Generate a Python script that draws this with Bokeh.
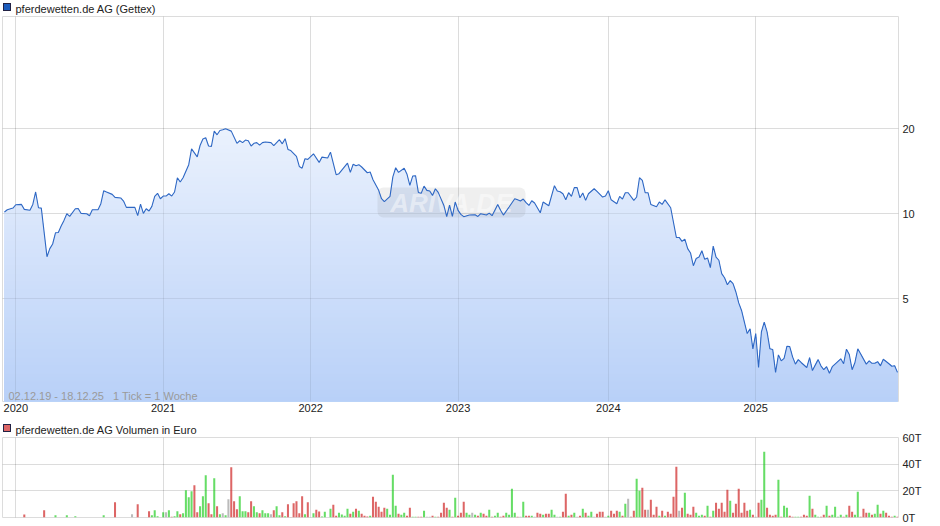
from bokeh.embed import file_html
from bokeh.resources import INLINE
from bokeh.layouts import column
from bokeh.models import Range1d, FixedTicker, Label, BoxAnnotation, ColumnDataSource, Grid, Title, Div
from bokeh.plotting import figure
import numpy as np

chart_title = "pferdewetten.de AG (Gettex)"
volume_title = "pferdewetten.de AG Volumen in Euro"
range_note = "02.12.19 - 18.12.25\u00a0\u00a0\u00a01 Tick = 1 Woche"
watermark = "ARIVA.DE"

year_ticks = [4, 56, 108, 160, 213, 265]
year_labels = ["2020", "2021", "2022", "2023", "2024", "2025"]
price_ticks = [5, 10, 20]
volume_ticks = [0, 20, 40, 60]
volume_labels = ["0T", "20T", "40T", "60T"]

price_weeks = [
    0,1,3,4,6,7,9,10,11,12,13,15,16,17,18,19,20,21,22,23,25,26,27,29,30,31,33,34,35,36,38,39,41,42,43,46,47,48,49,50,
    51,52,53,54,55,56,57,58,59,60,61,62,63,65,66,68,69,70,71,72,73,74,75,76,77,78,80,82,83,84,85,86,87,88,89,90,91,92,
    94,95,97,98,99,100,101,103,104,105,
    106,107,109,111,112,114,115,117,118,121,122,123,124,125,126,128,129,130,132,133,134,136,137,138,139,141,142,143,
    144,145,146,147,148,149,150,151,152,153,155,156,157,158,159,160,161,162,164,166,167,168,170,171,172,174,175,176,
    178,180,181,182,183,184,185,186,187,189,190,192,194,195,196,197,198,199,200,201,202,203,204,205,206,208,209,211,
    212,213,214,216,
    217,218,219,220,222,223,224,225,226,227,228,230,231,232,233,235,237,238,239,240,241,242,243,244,245,246,247,248,
    249,250,251,252,253,254,255,256,257,258,259,260,261,262,263,264,265,266,267,268,269,270,271,272,273,274,275,276,
    277,278,279,280,281,283,284,285,287,288,289,290,291,292,295,296,297,298,299,300,301,304,305,306,307,308,309,310,
    312,313,314,315,
]
prices = [
    10.14,10.33,10.47,10.76,10.79,10.36,10.28,10.79,11.94,10.50,10.47,7.04,7.52,7.81,8.56,8.58,9.04,9.47,10.0,9.78,
    10.41,10.44,10.03,10.0,9.84,10.33,10.33,10.85,12.06,11.94,11.71,11.43,11.37,11.09,10.53,10.53,9.84,10.82,10.03,10.41,
    10.22,10.62,11.52,11.81,11.30,11.55,11.55,11.77,11.55,11.94,13.41,12.95,13.41,14.92,16.98,15.91,17.45,18.39,18.59,17.38,
    17.33,19.62,19.04,19.72,19.83,20.0,19.62,17.76,18.14,17.86,18.24,18.14,17.38,17.76,17.86,17.51,17.86,17.96,
    17.86,17.43,18.29,17.69,18.44,16.90,16.75,15.97,14.71,14.50,
    15.66,15.58,16.31,15.20,15.87,15.75,16.53,13.75,13.86,15.11,14.01,14.97,14.80,14.92,14.64,13.97,14.05,13.20,12.10,11.30,
    11.03,11.52,13.50,14.55,14.01,14.50,13.79,12.60,13.60,13.64,11.90,11.81,12.53,12.10,12.03,11.61,12.26,11.90,10.70,9.76,
    10.73,9.78,11.00,10.28,9.95,9.76,9.89,9.92,9.78,10.0,9.89,10.05,9.84,10.79,10.28,9.89,10.56,11.30,11.20,11.09,
    11.27,10.94,10.70,11.12,10.91,10.08,11.00,10.67,12.57,12.03,11.97,11.77,11.20,11.87,11.52,12.37,12.37,11.39,11.84,11.15,
    11.77,12.26,12.00,11.46,11.55,12.06,11.20,10.85,
    11.52,11.27,11.87,11.87,11.15,11.46,13.41,13.13,11.87,11.87,10.79,10.59,11.00,10.79,11.20,10.50,8.24,8.24,7.98,8.13,
    7.52,7.26,6.54,6.94,7.02,7.39,6.89,6.97,6.44,7.68,7.02,6.84,6.13,5.93,5.60,5.79,5.65,5.28,4.83,4.54,
    4.13,3.76,3.91,3.32,3.76,2.85,3.81,4.13,3.81,3.32,3.30,2.74,3.16,3.01,3.07,3.39,3.38,3.11,2.93,3.04,
    2.97,2.85,3.09,2.78,3.04,2.89,2.80,2.87,2.72,2.87,3.06,2.94,3.31,3.17,2.80,2.97,3.32,2.93,3.01,2.95,
    2.95,2.99,2.89,3.05,2.94,2.88,2.89,2.74,
]

# weekly traded volume in thousand euro, one row per ten weeks
volumes = [
    0,0,0,0,0,0,0,2.25,0,0,
    0,0,0,0,5.5,0,0,0,1.75,0,
    0,0,1.75,0,0,1,0,0,0,0,
    0,0,0,0,0,1.75,0,0,0,11.5,
    0,0,0,0,0,2.5,0,10,0,0,
    0,4.75,1.75,5.5,1,0,4,4,5.5,.5,
    1,4.75,2.5,3.25,20.5,15.25,19.75,24.25,4,8.5,
    16,31.75,10.75,2.5,29.5,8.5,2.5,3.25,1.75,13.75,
    37.75,12.25,6.25,16,4.75,4.75,4,12.25,8.5,4,
    3.25,5.5,3.25,3.25,2.5,5.5,8.5,1.75,4,1,
    10,.25,10.75,12.25,3.25,16,2.5,11.5,0,3.25,
    5.75,4.5,.75,4.25,0,6.5,9.5,1.25,3.5,2.25,
    1.25,6.5,2.75,4.25,6.5,5,2.75,1.25,.75,1.25,
    15.5,11.75,8,4.25,7.25,6.5,2,32,8.75,2.75,
    2,3.5,1.25,7.25,.5,.5,.5,.5,5,.5,
    .5,1.25,.5,.5,3.5,11,7.25,5.75,.5,14.75,
    1.25,3.5,11.75,3.5,2,3.5,2,1.25,3.5,2.75,
    1.25,5.75,.5,1.25,3.5,.5,1.25,3.5,2,21.5,
    3.5,.5,.5,11.75,1.25,1.25,1.25,.5,3.5,2.75,
    2,2.75,2.75,5.75,2,.5,.5,4.25,17.75,1.25,
    2,3.5,.5,1.25,6.5,3.5,1.25,4.25,.5,2.75,
    4.25,4.25,.5,1.25,5,2.75,5,4.25,1.25,10.25,
    14,.5,5,29,20,22.25,5.75,5.75,13.25,2,
    8,1.25,5,1.25,4.25,2.75,15.5,38,5,7.25,
    18.5,2.75,2,8,3.5,1.25,2,1.25,8.75,.5,
    5,11,6.5,11,4.25,20.75,12.5,3.5,10.25,21.5,
    3.5,11,5,5.75,2,.5,11,13.25,49.25,7.25,
    2,1.25,2,28.25,.5,8.75,7.25,1.25,.5,.5,
    .5,.5,2,1.25,16.25,6.5,2,.5,.5,2,
    8.75,1.25,2,8,.5,2,.5,2,8.75,4.25,
    2,19.25,.5,6.5,3.5,3.5,2,2.75,9.5,2.75,
    5,3.5,1.25,.5,1.25,.5,
]
# r = week closed lower, g = higher, n = unchanged, . = no trades
volume_kinds = "".join([
    ".......r..", "....r...g.", "..g..g....", ".....g...r", ".....n.r..",
    ".rggg.gngr", "ggrggggrrg", "ggrrgrgngn", "rrrgggrrgg", "rgggnrggrg",
    "rrrrrrgr.g", "rrgg.grrgg", "ggrgrgrrrg", "rrrrrggggr", "ggrrggrrgn",
    "nrgrrrrgrg", "rrrggngrgr", "rgrggrrggg", "grngrrgnrr", "grrggngrrg",
    "rgnrgrggnr", "rrngrrrgrg", "nrrggrrnrr", "rgrgrrrrnr", "grrrgggrgr",
    "grrrrrgrrr", "rrrgrnrggr", "rrrgrggrrg", "grrrgrggrr", "grggggrgrr",
    "ggrrrgrggr", "grrrgr",
])

FONT = "Liberation Sans"
KIND_COLORS = {"r": "#dd6666", "g": "#66dd66", "n": "#bbbbbb", ".": "#ffffff"}
x_range = (-0.69, 315.36)
y_low, y_high = 2.16, 50.0


def base_figure(height, top, bottom, y_range, y_axis_type, y_ticks, title):
    p = figure(width=940, height=height, output_backend="svg", toolbar_location=None,
               x_range=Range1d(*x_range), y_range=y_range, y_axis_type=y_axis_type,
               y_axis_location="right", min_border_left=2, min_border_right=42,
               min_border_top=top, min_border_bottom=bottom,
               outline_line_color="#dcdcdc", outline_line_width=1,
               background_fill_color="#ffffff", border_fill_color="#ffffff")
    p.title = Title(text=title, text_font=FONT, text_font_size="11px", text_font_style="normal",
                    text_color="#222222", align="left", offset=13, standoff=0, vertical_align="top",
                    padding=0)
    p.xaxis.ticker = FixedTicker(ticks=year_ticks)
    p.xaxis.major_label_overrides = dict(zip(year_ticks, year_labels))
    p.yaxis.ticker = FixedTicker(ticks=y_ticks)
    for ax in list(p.xaxis) + list(p.yaxis):
        ax.axis_line_color = None
        ax.major_tick_line_color = None
        ax.minor_tick_line_color = None
        ax.major_tick_out = 0
        ax.major_tick_in = 0
        ax.major_label_text_font = FONT
        ax.major_label_text_font_size = "11px"
        ax.major_label_text_color = "#222222"
    p.xaxis.major_label_standoff = 2
    p.yaxis.major_label_standoff = 4
    # one set of grid lines under the filled area and a fainter one over it
    p.grid.visible = False
    for dim, ticks in ((0, year_ticks), (1, y_ticks)):
        for level in ("underlay", "guide"):
            p.add_layout(Grid(dimension=dim, ticker=FixedTicker(ticks=ticks), level=level,
                              grid_line_color="#000000", grid_line_alpha=0.07, grid_line_width=1))
    return p


def legend_square(fill, top):
    html = ('<div style="position:absolute;left:3px;top:%dpx;width:8px;height:8px;box-sizing:border-box;'
            'background:%s;border:1px solid #222244;z-index:5"></div>' % (top, fill))
    return Div(text=html, width=0, height=0, margin=0, styles={"position": "relative", "overflow": "visible"})


# price panel
p1 = base_figure(421, 16, 20, Range1d(y_low, y_high), "log", price_ticks, chart_title)
p1.yaxis.major_label_overrides = {t: str(t) for t in price_ticks}

wk = np.array(price_weeks, dtype=float)
pr = np.array(prices, dtype=float)
# vertical gradient: bands painted from the top down, each one reaching to the floor
edges = np.geomspace(y_high, y_low, 97)
for i in range(96):
    if edges[i + 1] > pr.max():
        continue
    t = (i + 0.5) / 96
    col = "#%02x%02x%02x" % (round(255 - 71 * t), round(255 - 47 * t), round(255 - 7 * t))
    p1.varea(x=wk, y1=np.full(len(wk), y_low), y2=np.minimum(pr, edges[i]), fill_color=col, fill_alpha=1)

p1.add_layout(BoxAnnotation(left=377, right=525, top=187, bottom=217,
                            left_units="canvas", right_units="canvas",
                            top_units="canvas", bottom_units="canvas",
                            fill_color="#707070", fill_alpha=0.11, line_color=None, border_radius=6))
p1.add_layout(Label(x=451, y=202, x_units="canvas", y_units="canvas", text=watermark,
                    text_font=FONT, text_font_style="bold italic", text_font_size="26px",
                    text_color="#ffffff", text_alpha=0.45, text_align="center", text_baseline="middle"))
line = p1.line(wk, pr, line_color="#2f68c4", line_width=1.1)
line.level = "overlay"
p1.add_layout(Label(x=8, y=395, x_units="canvas", y_units="canvas", text=range_note,
                    text_font=FONT, text_font_size="11px", text_color="#9a9a9a",
                    text_baseline="middle"))

# volume panel
p2 = base_figure(105, 16, 9, Range1d(0, 60), "linear", volume_ticks, volume_title)
p2.xaxis.visible = False
p2.yaxis.major_label_overrides = dict(zip(volume_ticks, volume_labels))
src = ColumnDataSource(dict(
    week=list(range(len(volumes))), volume=volumes,
    color=[KIND_COLORS[k] for k in volume_kinds],
))
p2.vbar(x="week", top="volume", bottom=0, width=0.72, fill_color="color", line_color=None, source=src)

root = column(legend_square("#1c5cbc", 3), p1, legend_square("#dd6666", 3), p2, spacing=0)
assert len(price_weeks) == len(prices) and len(volumes) == len(volume_kinds) == 316
open("out.html", "w").write(file_html(root, INLINE))
